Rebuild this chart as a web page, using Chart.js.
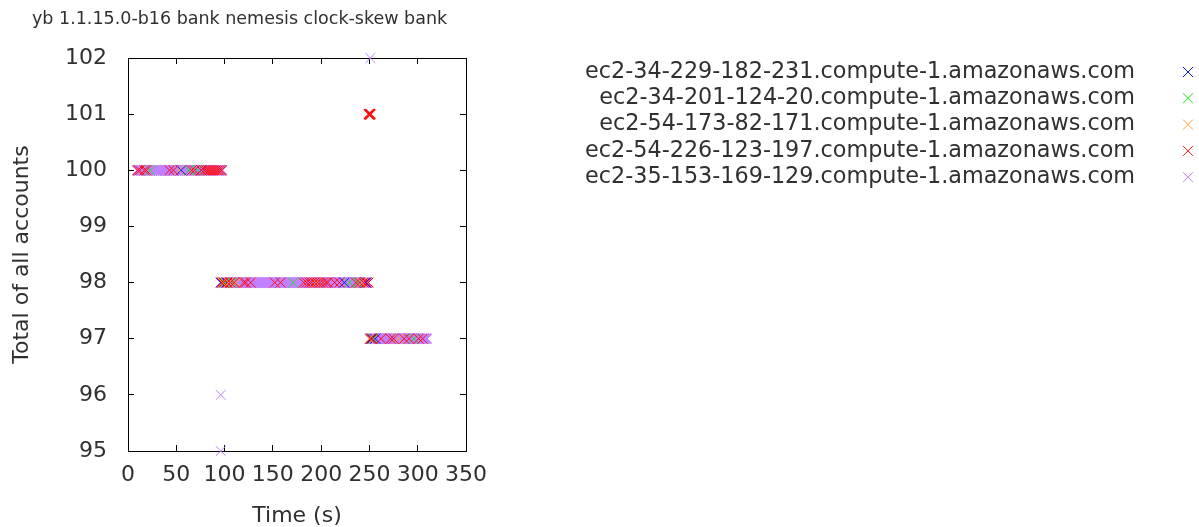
<!DOCTYPE html>
<html>
<head>
<meta charset="utf-8">
<title>clock-skew bank</title>
<script src="https://cdn.jsdelivr.net/npm/chart.js@4/dist/chart.umd.min.js"></script>
<style>
  html, body { margin: 0; padding: 0; background: #fff; }
  #wrap { width: 1199px; height: 527px; }
</style>
</head>
<body>
<div id="wrap"><canvas id="myChart" width="1199" height="527"></canvas></div>
<script>
const titleText = "yb 1.1.15.0-b16 bank nemesis clock-skew bank";
const hosts = [
  "ec2-34-229-182-231.compute-1.amazonaws.com",
  "ec2-34-201-124-20.compute-1.amazonaws.com",
  "ec2-54-173-82-171.compute-1.amazonaws.com",
  "ec2-54-226-123-197.compute-1.amazonaws.com",
  "ec2-35-153-169-129.compute-1.amazonaws.com"
];
const hostColors = ["#1010ff", "#20e020", "#ffa530", "#ff1010", "#c080ff"];

const xTicks = [0, 50, 100, 150, 200, 250, 300, 350];
const yTicks = [95, 96, 97, 98, 99, 100, 101, 102];

// times (s) at which each node read a given total
const blue100 = [55, 76];
const blue98 = [96, 102, 224, 246];
const blue97 = [252, 256];

const green100 = [23, 63, 72];
const green98 = [100, 108, 171, 229, 238];
const green97 = [254, 296];

const orange100 = [53];
const orange98 = [98, 104, 112, 195, 242];
const orange97 = [250, 280];

const red100 = [10, 12, 17, 19, 43, 47, 66, 69, 76, 79, 81, 83, 85, 87, 89, 91, 93, 95, 97];
const red98 = [97, 99, 103, 106, 110, 120, 122, 127, 152, 158, 182, 185, 188, 190, 193, 196, 199, 202, 205, 207, 214, 219, 236, 240, 244, 247, 249];
const red97 = [251, 253, 262, 272, 275, 286, 291, 301, 305];
const red101 = [249.5, 250, 250.5, 251];

const purple100 = [10, 11, 13, 14, 16, 18, 20, 21, 23, 25, 27, 29, 30, 32, 34, 36, 38, 39, 41, 43, 45, 47, 48, 50, 52, 54, 56, 57, 59, 61, 63, 65, 66, 68, 70, 72, 74, 75, 77, 79, 81, 83, 84, 86, 88, 90, 92, 93, 95, 97];
const purple98 = [97, 99, 101, 103, 104, 106, 108, 110, 112, 114, 116, 118, 120, 122, 124, 126, 128, 130, 132, 134, 136, 138, 140, 142, 144, 146, 148, 150, 152, 154, 156, 158, 160, 162, 164, 166, 168, 170, 172, 174, 176, 178, 180, 182, 184, 186, 188, 190, 192, 194, 196, 198, 200, 202, 204, 206, 208, 210, 212, 214, 216, 218, 220, 222, 224, 226, 228, 230, 232, 234, 236, 238, 240, 242, 244, 246, 248];
const purple97 = [251, 253, 255, 257, 259, 261, 263, 265, 267, 269, 271, 273, 275, 277, 279, 281, 283, 285, 287, 289, 291, 293, 295, 297, 299, 301, 303, 305, 307, 309];
const purpleOddT = [96, 96, 251];
const purpleOddV = [96, 95, 102];

function pts(times, total) {
  return times.map(t => ({x: t, y: total}));
}

const seriesPoints = [
  pts(blue100, 100).concat(pts(blue98, 98), pts(blue97, 97)),
  pts(green100, 100).concat(pts(green98, 98), pts(green97, 97)),
  pts(orange100, 100).concat(pts(orange98, 98), pts(orange97, 97)),
  pts(red100, 100).concat(pts(red98, 98), pts(red97, 97), pts(red101, 101)),
  pts(purple100, 100).concat(pts(purple98, 98), pts(purple97, 97),
    purpleOddT.map((t, i) => ({x: t, y: purpleOddV[i]})))
];
// purple underneath, red on top
const drawOrder = [3, 2, 1, 0, 4];

const FONT = '"DejaVu Sans", sans-serif';
const INK = "#303030";

// gnuplot-like title and key, drawn on the canvas
const keyPlugin = {
  id: "gnuKey",
  afterDraw(chart) {
    const ctx = chart.ctx;
    ctx.save();
    ctx.fillStyle = INK;
    ctx.textBaseline = "middle";
    ctx.font = "17.5px " + FONT;
    ctx.textAlign = "left";
    ctx.fillText(titleText, 32, 19);

    ctx.font = "22.3px " + FONT;
    ctx.textAlign = "right";
    chart.data.datasets.forEach((ds, i) => {
      const y = 72 + i * 26.3;
      ctx.fillStyle = INK;
      ctx.fillText(ds.label, 1135, y);
      ctx.strokeStyle = ds.borderColor;
      ctx.lineWidth = 1;
      ctx.beginPath();
      ctx.moveTo(1183, y - 5); ctx.lineTo(1193, y + 5);
      ctx.moveTo(1183, y + 5); ctx.lineTo(1193, y - 5);
      ctx.stroke();
    });
    ctx.restore();
  }
};

const tickGrid = {drawOnChartArea: false, drawTicks: true, tickLength: -6, color: "#000"};
const frame = {display: true, color: "#000", width: 1};

new Chart("myChart", {
  type: "scatter",
  data: {
    datasets: hosts.map((h, i) => ({
      label: h,
      data: seriesPoints[i],
      borderColor: hostColors[i],
      backgroundColor: hostColors[i],
      pointStyle: "crossRot",
      pointRadius: 7,
      // the dense purple runs merge into a solid band
      pointBorderWidth: c => (i === 4 && c.raw && c.raw.y >= 97 && c.raw.y <= 100) ? 2 : (i === 3 && c.raw && c.raw.y === 101 ? 1.6 : 1),
      order: drawOrder[i],
      clip: false
    }))
  },
  options: {
    responsive: false,
    animation: false,
    layout: {padding: {left: 0, top: 58, right: 733, bottom: 0}},
    plugins: {
      legend: {display: false},
      title: {display: false},
      tooltip: {enabled: false}
    },
    scales: {
      x: {
        type: "linear", position: "bottom", min: 0, max: 350,
        afterBuildTicks: s => { s.ticks = xTicks.map(v => ({value: v})); },
        ticks: {padding: 17, color: INK, font: {family: FONT, size: 22}},
        grid: tickGrid, border: frame,
        title: {display: true, text: "Time (s)", color: INK, padding: {top: 0, bottom: -2}, font: {family: FONT, size: 22}},
        afterFit: s => { s.height = 76; }
      },
      y: {
        type: "linear", position: "left", min: 95, max: 102,
        afterBuildTicks: s => { s.ticks = yTicks.map(v => ({value: v})); },
        ticks: {padding: 27, color: INK, font: {family: FONT, size: 22}},
        grid: tickGrid, border: frame,
        title: {display: true, text: "Total of all accounts", color: INK, padding: {top: 9, bottom: 0}, font: {family: FONT, size: 22}},
        afterFit: s => { s.width = 128; }
      },
      x2: {
        type: "linear", position: "top", min: 0, max: 350,
        afterBuildTicks: s => { s.ticks = xTicks.map(v => ({value: v})); },
        ticks: {display: false},
        grid: tickGrid, border: frame,
        afterFit: s => { s.height = 0; }
      },
      y2: {
        type: "linear", position: "right", min: 95, max: 102,
        afterBuildTicks: s => { s.ticks = yTicks.map(v => ({value: v})); },
        ticks: {display: false},
        grid: tickGrid, border: frame,
        afterFit: s => { s.width = 0; }
      }
    }
  },
  plugins: [keyPlugin]
});
</script>
</body>
</html>
